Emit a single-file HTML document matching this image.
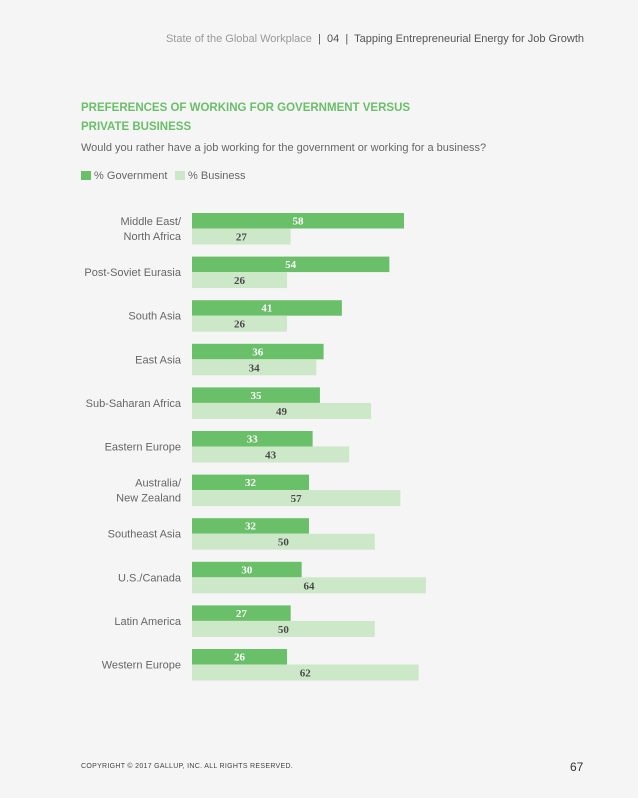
<!DOCTYPE html>
<html><head><meta charset="utf-8"><style>
body{margin:0;width:638px;height:798px;background:#f5f5f5;font-family:"Liberation Sans",sans-serif;position:relative;overflow:hidden}
.abs{position:absolute}
</style></head><body>
<div class="abs" style="left:0;right:54px;top:33px;text-align:right;font-size:11px;color:#555;white-space:nowrap"><span style="color:#999">State of the Global Workplace</span> &nbsp;|&nbsp; 04 &nbsp;|&nbsp; Tapping Entrepreneurial Energy for Job Growth</div>
<div class="abs" style="left:81px;top:99px;font-size:11.5px;font-weight:bold;color:#6abf69;line-height:19px">PREFERENCES OF WORKING FOR GOVERNMENT VERSUS<br>PRIVATE BUSINESS</div>
<div class="abs" style="left:81px;top:142px;font-size:11px;color:#666">Would you rather have a job working for the government or working for a business?</div>
<div class="abs" style="left:81px;top:170px;font-size:11px;color:#666"><span style="display:inline-block;width:10px;height:9px;background:#6abf69;vertical-align:-1px"></span> % Government</div>
<div class="abs" style="left:175px;top:170px;font-size:11px;color:#666"><span style="display:inline-block;width:10px;height:9px;background:#cde8c9;vertical-align:-1px"></span> % Business</div>
<svg class="abs" style="left:0;top:0" width="638" height="798" id="chart"></svg>
<div class="abs" style="left:81px;top:763px;font-size:7px;color:#444;letter-spacing:0.3px">COPYRIGHT © 2017 GALLUP, INC. ALL RIGHTS RESERVED.</div>
<div class="abs" style="left:570px;top:760px;font-size:12px;color:#333">67</div>
<script>
const categories=["Middle East/\nNorth Africa","Post-Soviet Eurasia","South Asia","East Asia","Sub-Saharan Africa","Eastern Europe","Australia/\nNew Zealand","Southeast Asia","U.S./Canada","Latin America","Western Europe"];
const government=[58,54,41,36,35,33,32,32,30,27,26];
const business=[27,26,26,34,49,43,57,50,64,50,62];
const svg=document.getElementById('chart');
const NS='http://www.w3.org/2000/svg';
const x0=192,k=3.655,y0=213,step=43.6,bh=15.5;
const xs=v=>v*k;
function mk(tag,attrs){const e=document.createElementNS(NS,tag);for(const a in attrs)e.setAttribute(a,attrs[a]);svg.appendChild(e);return e;}
categories.forEach((c,i)=>{
  const y=y0+i*step;
  const g=mk('rect',{x:x0,y:y,width:xs(government[i]),height:bh,fill:'#6abf69'});
  
  
  const b=mk('rect',{x:x0,y:y+bh,width:xs(business[i]),height:bh+0.5,fill:'#cde8c9'});
  
  
  const t1=mk('text',{x:x0+xs(government[i])/2,y:y+11.5,'text-anchor':'middle','font-family':'Liberation Serif,serif','font-weight':'bold','font-size':'11',fill:'#fff'});
  t1.textContent=government[i];
  
  
  const t2=mk('text',{x:x0+xs(business[i])/2,y:y+bh+12,'text-anchor':'middle','font-family':'Liberation Serif,serif','font-weight':'bold','font-size':'11',fill:'#4a4a4a'});
  t2.textContent=business[i];
  
  
  const lines=c.split('\n');
  const lab=mk('text',{x:181,'text-anchor':'end','font-family':'Liberation Sans,sans-serif','font-size':'11',fill:'#666'});
  
  
  const mid=y+bh;
  lines.forEach((l,j)=>{const ts=document.createElementNS(NS,'tspan');ts.setAttribute('x',181);ts.setAttribute('y',mid+4+(j-(lines.length-1)/2)*15);ts.textContent=l;lab.appendChild(ts);});
});
</script>
</body></html>
